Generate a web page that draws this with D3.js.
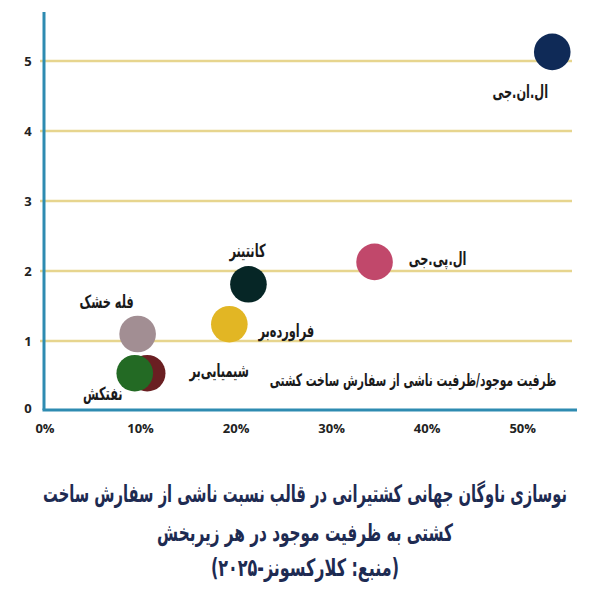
<!DOCTYPE html>
<html>
<head>
<meta charset="utf-8">
<script src="https://cdn.jsdelivr.net/npm/d3@7"></script>
<style>
  body { margin: 0; background: #fff; }
  text { font-family: "DejaVu Sans Condensed", "DejaVu Sans", sans-serif; }
  text.num { font-family: "Open Sans", "DejaVu Sans", sans-serif; }
</style>
</head>
<body>
<div id="chart"></div>
<script>
// segments of the fleet
const segments = ["ال.ان.جی", "ال.پی.جی", "کانتینر", "فراورده‌بر", "فله خشک", "شیمیایی‌بر", "نفتکش"];
// order book / existing capacity (x) and existing / order book ratio (y)
const orderShare = [0.532, 0.346, 0.214, 0.194, 0.098, 0.108, 0.095];
const ratio = [5.13, 2.13, 1.81, 1.24, 1.10, 0.54, 0.54];
const colors = ["#0f2a57", "#c1486b", "#062626", "#e2b624", "#a28e93", "#6a1f22", "#236a24"];
// label offsets from each bubble
const labelDx = [-32, 63, -1, 57, -31, 72, -32];
const labelDy = [40, -3, -34, 6, -32, -3, 20];

const yTicks = [0, 1, 2, 3, 4, 5];
const xTicks = [0, 0.1, 0.2, 0.3, 0.4, 0.5];
const titleLines = [
  "نوسازی ناوگان جهانی کشتیرانی در قالب نسبت ناشی از سفارش ساخت",
  "کشتی به ظرفیت موجود در هر زیربخش",
  "(منبع: کلارکسونز-۲۰۲۵)"
];
const axisTitle = "ظرفیت موجود/ظرفیت ناشی از سفارش ساخت کشتی";

const width = 600, height = 597;
const svg = d3.select("#chart").append("svg")
    .attr("width", width)
    .attr("height", height);

const x = d3.scaleLinear().domain([0, 0.56]).range([44, 579]);
const y = d3.scaleLinear().domain([0, 5.7]).range([411, 12]);

// the font here is wider than the original one, so squeeze the text sideways
function squeeze(node, w, cx, cy) {
    const len = node.getComputedTextLength();
    node.setAttribute("transform", `translate(${cx},${cy}) scale(${w / len},1)`);
}

// grid lines
svg.append("g").selectAll("line")
    .data(yTicks.filter(d => d > 0))
    .join("line")
    .attr("x1", x(0) - 4)
    .attr("x2", 572)
    .attr("y1", d => y(d))
    .attr("y2", d => y(d))
    .attr("stroke", "#e7d58e")
    .attr("stroke-width", 2.5);

// y tick labels
svg.append("g").selectAll("text")
    .data(yTicks)
    .join("text")
    .attr("class", "num")
    .attr("x", 28)
    .attr("y", d => d == 0 ? y(d) - 3 : y(d))
    .attr("dy", "0.35em")
    .attr("text-anchor", "middle")
    .attr("fill", "#222")
    .style("font-size", "13px")
    .style("font-weight", "bold")
    .text(d => d);

// x tick labels
svg.append("g").selectAll("text")
    .data(xTicks)
    .join("text")
    .attr("class", "num")
    .attr("x", d => x(d) + 1)
    .attr("y", 428)
    .attr("dy", "0.35em")
    .attr("text-anchor", "middle")
    .attr("fill", "#222")
    .style("font-size", "13px")
    .style("font-weight", "bold")
    .text(d => d3.format(".0%")(d));

// axes lines
svg.append("line")
    .attr("x1", x(0)).attr("x2", x(0))
    .attr("y1", 12).attr("y2", 410)
    .attr("stroke", "#2e8bb1")
    .attr("stroke-width", 3);
svg.append("line")
    .attr("x1", x(0) - 1.5).attr("x2", 577)
    .attr("y1", 410).attr("y2", 410)
    .attr("stroke", "#2e8bb1")
    .attr("stroke-width", 3);

// bubbles
const idx = d3.range(segments.length);
svg.append("g").selectAll("circle")
    .data(idx)
    .join("circle")
    .attr("cx", i => x(orderShare[i]))
    .attr("cy", i => y(ratio[i]))
    .attr("r", 18.3)
    .attr("fill", i => colors[i]);

// axis title inside the plot
const axTitle = svg.append("text")
    .attr("dy", "0.35em")
    .attr("text-anchor", "middle")
    .attr("direction", "rtl")
    .attr("fill", "#1a1a1a")
    .style("font-size", "17px")
    .style("font-weight", "bold")
    .text(axisTitle);
squeeze(axTitle.node(), 287, 413, 380);
const labelScale = 287 / axTitle.node().getComputedTextLength();

// bubble labels
svg.append("g").selectAll("text")
    .data(idx)
    .join("text")
    .attr("dy", "0.35em")
    .attr("text-anchor", "middle")
    .attr("direction", "rtl")
    .attr("fill", "#1a1a1a")
    .style("font-size", "18px")
    .style("font-weight", "bold")
    .text(i => segments[i])
    .attr("transform", i => `translate(${x(orderShare[i]) + labelDx[i]},${y(ratio[i]) + labelDy[i]}) scale(${labelScale},1)`);

// chart title
const titleWidths = [524, 296, 188];
const titleY = [494, 533, 568];
svg.append("g").selectAll("text")
    .data(titleLines)
    .join("text")
    .attr("dy", "0.35em")
    .attr("text-anchor", "middle")
    .attr("direction", "rtl")
    .attr("fill", "#1e2b52")
    .style("font-size", "24px")
    .style("font-weight", "bold")
    .text(d => d)
    .each(function(d, i) { squeeze(this, titleWidths[i], 305, titleY[i]); });
</script>
</body>
</html>
